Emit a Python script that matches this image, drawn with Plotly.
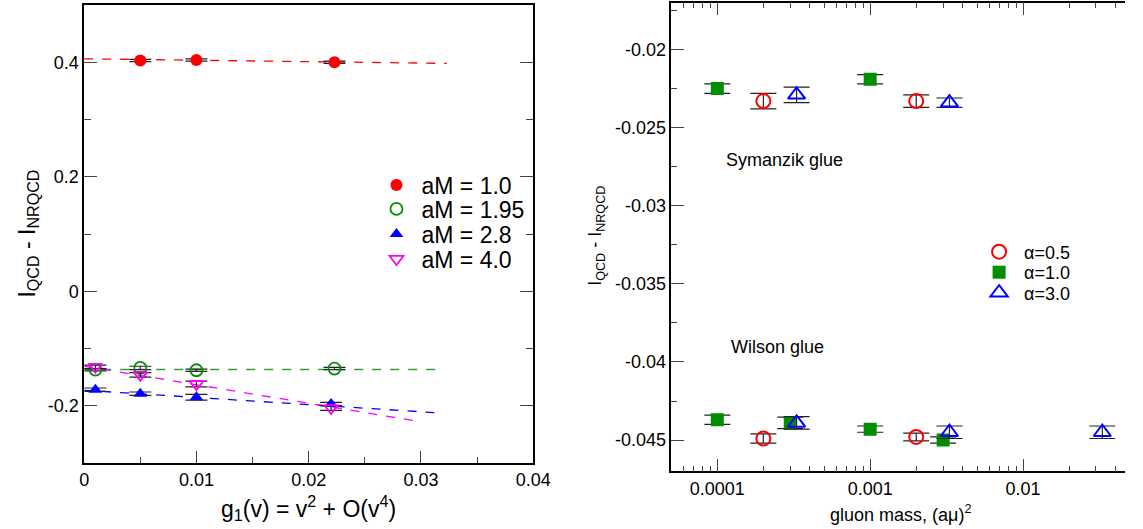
import plotly.graph_objects as go

# ---------------- Left panel data ----------------
am10_x = [0.005, 0.01, 0.0223]
am10_y = [0.403, 0.404, 0.400]
am10_e = [0.002, 0.002, 0.002]

am195_x = [0.001, 0.005, 0.01, 0.0223]
am195_y = [-0.137, -0.134, -0.138, -0.135]
am195_e = [0.002, 0.003, 0.002, 0.002]

am28_x = [0.001, 0.005, 0.01, 0.022]
am28_y = [-0.172, -0.179, -0.185, -0.197]
am28_e = [0.003, 0.003, 0.005, 0.003]

am40_x = [0.001, 0.005, 0.01, 0.022]
am40_y = [-0.132, -0.146, -0.162, -0.204]
am40_e = [0.003, 0.004, 0.005, 0.004]

fit10_x = [0.0, 0.0323]
fit10_y = [0.406, 0.398]
fit195_x = [0.0, 0.0319]
fit195_y = [-0.1367, -0.1367]
fit28_x = [0.0, 0.0312]
fit28_y = [-0.173, -0.212]
fit40_x = [0.0, 0.0300]
fit40_y = [-0.131, -0.228]

left_xticks = [0, 0.01, 0.02, 0.03, 0.04]
left_xtext = ["0", "0.01", "0.02", "0.03", "0.04"]
left_yticks = [-0.2, 0, 0.2, 0.4]
left_ytext = ["-0.2", "0", "0.2", "0.4"]

# ---------------- Right panel data ----------------
sym_a05_x = [0.0002, 0.002]
sym_a05_y = [-0.0233, -0.0233]
sym_a05_e = [0.0005, 0.0004]
sym_a10_x = [0.0001, 0.001]
sym_a10_y = [-0.0225, -0.0219]
sym_a10_e = [0.0003, 0.0003]
sym_a30_x = [0.00033, 0.0033]
sym_a30_y = [-0.0229, -0.0234]
sym_a30_e = [0.0005, 0.0003]

wil_a05_x = [0.0002, 0.002]
wil_a05_y = [-0.0449, -0.0448]
wil_a05_e = [0.0003, 0.00025]
wil_a10_x = [0.0001, 0.0003, 0.001, 0.003]
wil_a10_y = [-0.0437, -0.0439, -0.0443, -0.0450]
wil_a10_e = [0.0003, 0.00037, 0.0002, 0.0002]
wil_a30_x = [0.00033, 0.0033, 0.033]
wil_a30_y = [-0.0439, -0.0445, -0.0445]
wil_a30_e = [0.0004, 0.0004, 0.0004]

right_xticks = [0.0001, 0.001, 0.01]
right_xtext = ["0.0001", "0.001", "0.01"]
right_yticks = [-0.045, -0.04, -0.035, -0.03, -0.025, -0.02]
right_ytext = ["-0.045", "-0.04", "-0.035", "-0.03", "-0.025", "-0.02"]

FONT = "Liberation Sans, Arial, Helvetica, sans-serif"
RED = "#ff0000"
GREEN = "#008f00"
BLUE = "#0000ff"
MAG = "#ff00ff"
W, H = 1143, 529

fig = go.Figure()


def eb(arr, width):
    return dict(type="data", array=arr, visible=True, color="#222222", thickness=1.2, width=width)


# left fits
for fx, fy, c in [(fit10_x, fit10_y, RED), (fit195_x, fit195_y, "#35a035"),
                  (fit28_x, fit28_y, BLUE), (fit40_x, fit40_y, MAG)]:
    fig.add_trace(go.Scatter(x=fx, y=fy, mode="lines", line=dict(color=c, width=1.3, dash="dash"),
                             showlegend=False, hoverinfo="skip", xaxis="x", yaxis="y"))

left_series = [
    ("aM = 1.0", am10_x, am10_y, am10_e, dict(symbol="circle", size=12, color=RED)),
    ("aM = 1.95", am195_x, am195_y, am195_e,
     dict(symbol="circle-open", size=12, color=GREEN, line=dict(width=1.8, color=GREEN))),
    ("aM = 2.8", am28_x, am28_y, am28_e, dict(symbol="triangle-up", size=12, color=BLUE)),
    ("aM = 4.0", am40_x, am40_y, am40_e,
     dict(symbol="triangle-down-open", size=12, color=MAG, line=dict(width=1.8, color=MAG))),
]
left_rows = [185, 209, 234, 259]
legend_layouts = {}
for i, (name, xs, ys, es, mk) in enumerate(left_series):
    lg = "legend" if i == 0 else "legend%d" % (i + 1)
    fig.add_trace(go.Scatter(x=xs, y=ys, mode="markers", name=name, marker=mk,
                             error_y=eb(es, 11), xaxis="x", yaxis="y", legend=lg))
    legend_layouts[lg] = dict(x=374 / W, y=1 - left_rows[i] / H, xanchor="left", yanchor="middle",
                              font=dict(family=FONT, size=23, color="black"), itemwidth=40,
                              bgcolor="rgba(0,0,0,0)", borderwidth=0)

right_series = [
    ("α=0.5", sym_a05_x, sym_a05_y, sym_a05_e, wil_a05_x, wil_a05_y, wil_a05_e,
     dict(symbol="circle-open", size=14, color=RED, line=dict(width=2, color=RED))),
    ("α=1.0", sym_a10_x, sym_a10_y, sym_a10_e, wil_a10_x, wil_a10_y, wil_a10_e,
     dict(symbol="square", size=13, color=GREEN)),
    ("α=3.0", sym_a30_x, sym_a30_y, sym_a30_e, wil_a30_x, wil_a30_y, wil_a30_e,
     dict(symbol="triangle-up-open", size=15, color=BLUE, line=dict(width=2, color=BLUE))),
]
right_rows = [252, 272.5, 293]
for i, (name, sx, sy, se, wx, wy, we, mk) in enumerate(right_series):
    lg = "legend%d" % (i + 5)
    fig.add_trace(go.Scatter(x=sx, y=sy, mode="markers", name=name, marker=mk, legendgroup=name,
                             error_y=eb(se, 13), xaxis="x2", yaxis="y2", legend=lg))
    fig.add_trace(go.Scatter(x=wx, y=wy, mode="markers", name=name, marker=mk, legendgroup=name,
                             showlegend=False, error_y=eb(we, 13), xaxis="x2", yaxis="y2",
                             legend=lg))
    legend_layouts[lg] = dict(x=989 / W, y=1 - right_rows[i] / H, xanchor="left", yanchor="middle",
                              font=dict(family=FONT, size=18, color="black"), itemwidth=40,
                              bgcolor="rgba(0,0,0,0)", borderwidth=0)

tickfont = dict(family=FONT, size=18, color="black")
axis_common = dict(showline=True, linecolor="black", linewidth=1.5, ticks="inside",
                   tickcolor="#444444", tickwidth=1.3, showgrid=False, zeroline=False,
                   tickfont=tickfont)

lx0, lx1 = 80.8 / W, 539 / W
ly0, ly1 = (H - 463) / H, (H - 5) / H
rx0, rx1 = 680 / W, 1.0
ry0, ry1 = (H - 471.3) / H, (H - 2.7) / H

fig.update_layout(
    width=W, height=H, margin=dict(l=0, r=0, t=0, b=0),
    paper_bgcolor="white", plot_bgcolor="white",
    font=dict(family=FONT, color="black"),
    xaxis=dict(domain=[lx0, lx1], range=[0, 0.04], anchor="y", mirror=True,
               tickmode="array", tickvals=left_xticks, ticktext=left_xtext, ticklen=12,
               minor=dict(tickvals=[0.005, 0.015, 0.025, 0.035], ticks="inside", ticklen=6,
                          tickcolor="#444444", tickwidth=1.3), **axis_common),
    yaxis=dict(domain=[ly0, ly1], range=[-0.3, 0.5], anchor="x", mirror="ticks",
               tickmode="array", tickvals=left_yticks, ticktext=left_ytext, ticklen=13,
               minor=dict(tickvals=[-0.1, 0.1, 0.3], ticks="inside", ticklen=7,
                          tickcolor="#444444", tickwidth=1.3), **axis_common),
    xaxis2=dict(domain=[rx0, rx1], type="log", range=[-4.301, -4.301 + 463 / 156], anchor="y2",
                mirror="ticks", tickmode="array", tickvals=right_xticks, ticktext=right_xtext,
                ticklen=13,
                minor=dict(tickvals=[m * 10.0 ** e for e in (-5, -4, -3, -2) for m in range(2, 10)],
                           ticks="inside", ticklen=6, tickcolor="#444444", tickwidth=1.3),
                **axis_common),
    yaxis2=dict(domain=[ry0, ry1], range=[-0.047, -0.017], anchor="x2", mirror=False,
                tickmode="array", tickvals=right_yticks, ticktext=right_ytext, ticklen=13,
                minor=dict(tickvals=[-0.0425, -0.0375, -0.0325, -0.0275, -0.0225, -0.0175],
                           ticks="inside", ticklen=6, tickcolor="#444444", tickwidth=1.3),
                **axis_common),
    yaxis3=dict(overlaying="y2", anchor="x2", side="right", range=[-0.047, -0.017],
                showline=False, showgrid=False, zeroline=False, showticklabels=False,
                ticks="inside", ticklen=8, tickcolor="#444444", tickwidth=1.3,
                tickmode="array", tickvals=right_yticks,
                minor=dict(tickvals=[-0.0425, -0.0375, -0.0325, -0.0275, -0.0225, -0.0175],
                           ticks="inside", ticklen=2, tickcolor="#444444", tickwidth=1.3)),
    **legend_layouts,
)

annots = [
    dict(text="I<sub>QCD</sub> - I<sub>NRQCD</sub>", x=23 / W, y=1 - 234 / H, textangle=-90,
         font=dict(size=23)),
    dict(text="g<sub>1</sub>(v) = v<sup>2</sup> + O(v<sup>4</sup>)", x=310 / W, y=1 - 508 / H,
         font=dict(size=23)),
    dict(text="I<sub>QCD</sub> - I<sub>NRQCD</sub>", x=603 / W, y=1 - 236 / H, textangle=-90,
         font=dict(size=18)),
    dict(text="gluon mass, (aμ)<sup>2</sup>", x=914 / W, y=1 - 513 / H, font=dict(size=18)),
]
for a in annots:
    fig.add_annotation(xref="paper", yref="paper", showarrow=False, xanchor="center",
                       yanchor="middle", font_family=FONT, font_color="black", **a)

fig.add_annotation(text="Symanzik glue", xref="paper", yref="paper", x=734 / W, y=1 - 160 / H,
                   xanchor="left", yanchor="middle", showarrow=False,
                   font=dict(family=FONT, size=18, color="black"))
fig.add_annotation(text="Wilson glue", xref="paper", yref="paper", x=739 / W, y=1 - 347 / H,
                   xanchor="left", yanchor="middle", showarrow=False,
                   font=dict(family=FONT, size=18, color="black"))

fig.write_html("out.html", config={"displayModeBar": False},
               post_script="document.body.style.margin='0px';document.body.style.overflow='hidden';")
